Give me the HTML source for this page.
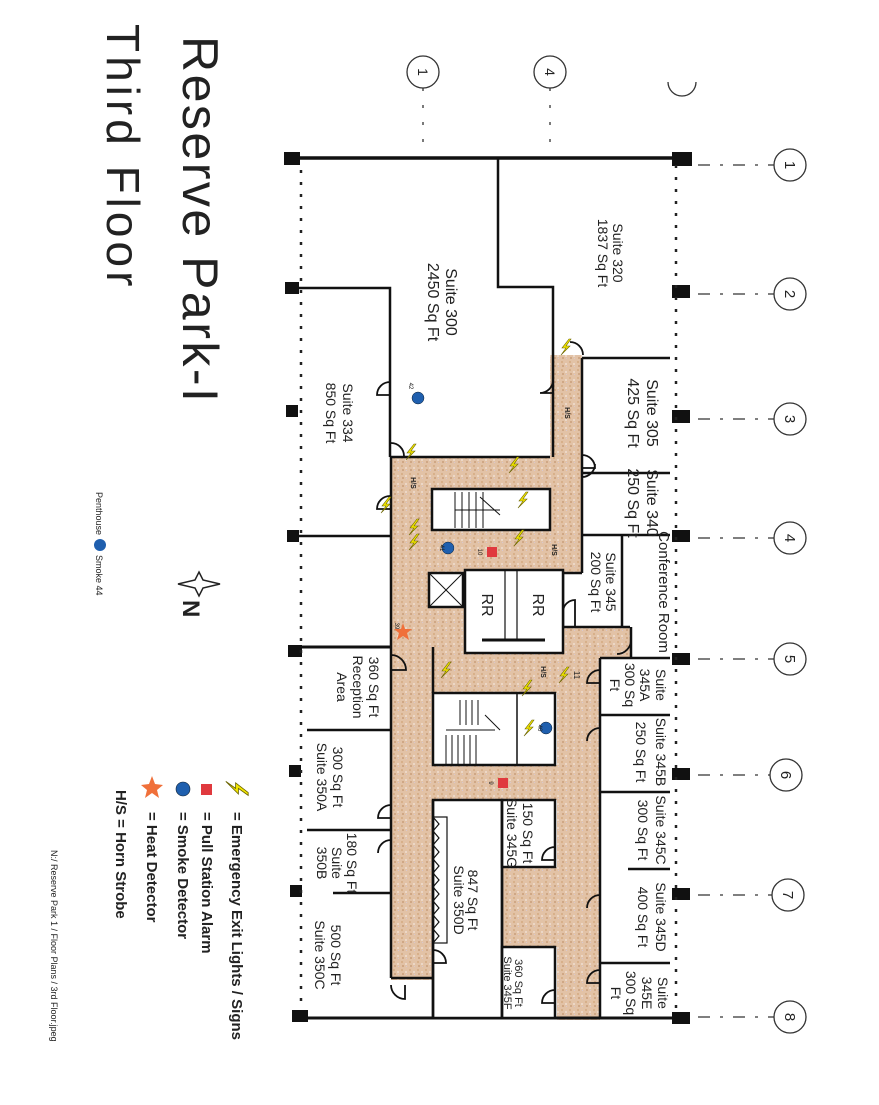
<!DOCTYPE html>
<html><head><meta charset="utf-8"><style>
html,body{margin:0;padding:0;background:#fff;}
svg{display:block;}
text{font-family:"Liberation Sans",sans-serif;fill:#222;}
</style></head><body>
<svg width="879" height="1105" viewBox="0 0 879 1105" xmlns="http://www.w3.org/2000/svg">
<defs>
<pattern id="tan" width="8" height="8" patternUnits="userSpaceOnUse">
<rect width="8" height="8" fill="#e2c2a6"/>
<rect x="1" y="1" width="2" height="2" fill="#d7b08a"/>
<rect x="5" y="3" width="2" height="2" fill="#ecd7c6"/>
<rect x="2" y="5" width="2" height="2" fill="#cfa785"/>
<rect x="6" y="6" width="1" height="1" fill="#d8c8cf"/>
</pattern>
<g id="bolt"><polygon points="4,-8 -3,1 1,1 -4,8 5,-1 1,-1 6,-8" fill="#f2e600" stroke="#6b6400" stroke-width="0.6"/></g>
</defs>

<!-- title -->
<text transform="translate(183 36) rotate(90)" font-size="50" letter-spacing="2.5" fill="#333">Reserve Park-I</text>
<text transform="translate(107 24) rotate(90)" font-size="46" letter-spacing="4" fill="#333">Third Floor</text>
<text transform="translate(96 492) rotate(90)" font-size="9">Penthouse</text>
<circle cx="100" cy="545" r="6" fill="#1f5fae"/>
<text transform="translate(96 555) rotate(90)" font-size="9">Smoke 44</text>

<!-- north -->
<polygon points="199,572 203,580 220,584 203,588 199,596 195,588 178,584 195,580" fill="#fff" stroke="#222" stroke-width="1.5"/>
<text transform="translate(183 600) rotate(90)" font-size="24" font-weight="bold">N</text>

<!-- legend -->
<use href="#bolt" transform="translate(237 787) rotate(90) scale(1.4)"/>
<text transform="translate(232 812) rotate(90)" font-size="15" font-weight="bold">= Emergency Exit  Lights / Signs</text>
<rect x="201" y="784" width="11" height="11" fill="#e0393e"/>
<text transform="translate(202 812) rotate(90)" font-size="15" font-weight="bold">= Pull Station Alarm</text>
<circle cx="183" cy="789" r="7" fill="#1f5fae" stroke="#123" stroke-width="0.6"/>
<text transform="translate(178 812) rotate(90)" font-size="15" font-weight="bold">= Smoke Detector</text>
<polygon points="152,776 155,784 163,785 157,790 159,798 152,793 145,798 147,790 141,785 149,784" fill="#f0703a"/>
<text transform="translate(147 812) rotate(90)" font-size="15" font-weight="bold">= Heat Detector</text>
<text transform="translate(116 790) rotate(90)" font-size="15" font-weight="bold">H/S = Horn Strobe</text>

<text transform="translate(51 850) rotate(90)" font-size="9" fill="#444">N:/ Reserve Park 1 / Floor Plans / 3rd Floor.jpeg</text>

<!-- grid circles top -->
<g fill="none" stroke="#333" stroke-width="1.3">
<circle cx="423" cy="72" r="16"/><circle cx="550" cy="72" r="16"/>
<path d="M668,82 a14,14 0 0 0 28,0"/>
<line x1="423" y1="88" x2="423" y2="150" stroke-dasharray="3,14"/>
<line x1="550" y1="88" x2="550" y2="150" stroke-dasharray="3,14"/>
</g>
<text transform="translate(418 72) rotate(90)" font-size="14" text-anchor="middle">1</text>
<text transform="translate(545 72) rotate(90)" font-size="14" text-anchor="middle">4</text>
<!-- right circles -->
<g fill="none" stroke="#333" stroke-width="1.3">
<circle cx="790" cy="165" r="16"/><circle cx="790" cy="294" r="16"/><circle cx="790" cy="419" r="16"/><circle cx="790" cy="538" r="16"/><circle cx="790" cy="659" r="16"/><circle cx="786" cy="775" r="16"/><circle cx="788" cy="895" r="16"/><circle cx="790" cy="1017" r="16"/>
<g stroke-dasharray="12,10,3,10">
<line x1="698" y1="165" x2="774" y2="165"/><line x1="698" y1="294" x2="774" y2="294"/><line x1="698" y1="419" x2="774" y2="419"/><line x1="698" y1="538" x2="774" y2="538"/><line x1="698" y1="659" x2="774" y2="659"/><line x1="698" y1="775" x2="770" y2="775"/><line x1="698" y1="895" x2="772" y2="895"/><line x1="698" y1="1017" x2="774" y2="1017"/>
</g></g>
<g font-size="15" text-anchor="middle">
<text transform="translate(785 165) rotate(90)">1</text>
<text transform="translate(785 294) rotate(90)">2</text>
<text transform="translate(785 419) rotate(90)">3</text>
<text transform="translate(785 538) rotate(90)">4</text>
<text transform="translate(785 659) rotate(90)">5</text>
<text transform="translate(781 775) rotate(90)">6</text>
<text transform="translate(783 895) rotate(90)">7</text>
<text transform="translate(785 1017) rotate(90)">8</text>
</g>

<!-- corridors -->
<g fill="url(#tan)">
<rect x="550" y="355" width="32" height="105"/>
<rect x="391" y="457" width="191" height="116"/>
<rect x="391" y="573" width="74" height="76"/>
<rect x="550" y="573" width="13" height="8"/>
<rect x="391" y="647" width="166" height="46"/>
<rect x="391" y="693" width="42" height="287"/>
<rect x="557" y="627" width="74" height="30"/>
<rect x="557" y="627" width="43" height="393"/>
<rect x="433" y="765" width="167" height="35"/>
<rect x="502" y="867" width="55" height="80"/>
</g>

<!-- walls -->
<g fill="none" stroke="#111" stroke-width="2.5">
<line x1="285" y1="158" x2="690" y2="158" stroke-width="3.5"/>
<line x1="292" y1="1018" x2="672" y2="1018" stroke-width="3"/>
<polyline points="498,158 498,287 553,287 553,355"/>
<line x1="553" y1="355" x2="553" y2="457"/>
<line x1="582" y1="358" x2="582" y2="573"/>
<line x1="582" y1="358" x2="670" y2="358"/>
<line x1="582" y1="473" x2="670" y2="473"/>
<line x1="582" y1="535" x2="670" y2="535"/>
<line x1="622" y1="535" x2="622" y2="627"/>
<polyline points="582,573 563,573 563,627 630,627"/>
<line x1="631" y1="627" x2="631" y2="658"/>
<polyline points="285,288 390,288 390,457"/>
<line x1="390" y1="457" x2="550" y2="457"/>
<line x1="287" y1="536" x2="391" y2="536"/>
<line x1="391" y1="457" x2="391" y2="978"/>
<rect x="432" y="489" width="118" height="41" fill="#fff"/>
<rect x="429" y="573" width="34" height="34" fill="#fff"/>
<line x1="429" y1="573" x2="463" y2="607" stroke-width="1"/><line x1="463" y1="573" x2="429" y2="607" stroke-width="1"/>
<rect x="465" y="570" width="98" height="83" fill="#fff"/>
<line x1="505" y1="570" x2="505" y2="640" stroke-width="1.2"/><line x1="517" y1="570" x2="517" y2="640" stroke-width="1.2"/>
<line x1="482" y1="640" x2="545" y2="640" stroke-width="3"/>
<line x1="290" y1="647" x2="391" y2="647" stroke-width="3"/>
<line x1="307" y1="730" x2="391" y2="730"/>
<line x1="307" y1="830" x2="391" y2="830"/>
<line x1="333" y1="893" x2="391" y2="893"/>
<rect x="433" y="693" width="122" height="72" fill="#fff"/>
<line x1="433" y1="647" x2="433" y2="693"/>
<rect x="433" y="800" width="69" height="218" fill="#fff"/>
<rect x="433" y="817" width="14" height="126" stroke-width="1.2"/>
<rect x="502" y="800" width="53" height="67" fill="#fff"/>
<rect x="502" y="947" width="53" height="71" fill="#fff"/>
<line x1="502" y1="800" x2="502" y2="1018"/>
<line x1="433" y1="800" x2="433" y2="1018"/>
<line x1="433" y1="978" x2="391" y2="978"/>
<line x1="600" y1="658" x2="600" y2="1018"/>
<line x1="600" y1="658" x2="670" y2="658"/>
<line x1="600" y1="715" x2="670" y2="715"/>
<line x1="600" y1="792" x2="670" y2="792"/>
<line x1="628" y1="869" x2="670" y2="869"/>
<line x1="600" y1="963" x2="670" y2="963"/>
</g>

<!-- stairs treads -->
<g stroke="#111" stroke-width="1">
<line x1="455" y1="492" x2="455" y2="528"/><line x1="462" y1="492" x2="462" y2="528"/><line x1="469" y1="492" x2="469" y2="528"/><line x1="476" y1="492" x2="476" y2="528"/><line x1="483" y1="492" x2="483" y2="528"/>
<line x1="455" y1="510" x2="500" y2="510"/><line x1="480" y1="497" x2="500" y2="515"/>
<line x1="446" y1="735" x2="446" y2="765"/><line x1="452" y1="735" x2="452" y2="765"/><line x1="458" y1="735" x2="458" y2="765"/><line x1="464" y1="735" x2="464" y2="765"/><line x1="470" y1="735" x2="470" y2="765"/><line x1="476" y1="735" x2="476" y2="765"/>
<line x1="460" y1="700" x2="460" y2="725"/><line x1="466" y1="700" x2="466" y2="725"/><line x1="472" y1="700" x2="472" y2="725"/><line x1="478" y1="700" x2="478" y2="725"/>
<line x1="446" y1="730" x2="495" y2="730"/><line x1="485" y1="715" x2="500" y2="730"/>
<line x1="517" y1="693" x2="517" y2="765" stroke-width="1.5"/>
</g>
<polyline points="433,817 439,824 433,831 439,838 433,845 439,852 433,859 439,866 433,873 439,880 433,887 439,894 433,901 439,908 433,915 439,922 433,929 439,936 433,943" fill="none" stroke="#111" stroke-width="1.2"/>

<!-- doors -->
<g fill="none" stroke="#111" stroke-width="1.8">
<path d="M390,382 a13,13 0 0 0 -13,13 L390,395"/>
<path d="M553,380 a13,13 0 0 1 -13,13 L553,393"/>
<path d="M582,455 a13,13 0 0 1 13,13 L582,468"/>
<path d="M582,477 a13,13 0 0 0 13,-13"/>
<path d="M390,496 a13,13 0 0 0 -13,13 L390,509"/>
<path d="M391,443 a13,13 0 0 1 13,13"/>
<path d="M570,342 a13,13 0 0 1 13,13"/>
<path d="M563,612 a12,12 0 0 1 12,-12 L575,627"/>
<path d="M631,640 a14,14 0 0 1 -14,14"/>
<path d="M391,655 a15,15 0 0 1 15,15 L391,670"/>
<path d="M600,670 a13,13 0 0 0 -13,13 L600,683"/>
<path d="M600,728 a13,13 0 0 0 -13,13"/>
<path d="M391,805 a13,13 0 0 0 -13,13 L391,818"/>
<path d="M391,840 a13,13 0 0 0 -13,13"/>
<path d="M555,847 a13,13 0 0 0 -13,13 L555,860"/>
<path d="M600,895 a13,13 0 0 0 -13,13"/>
<path d="M600,970 a13,13 0 0 0 -13,13 L600,983"/>
<path d="M555,990 a13,13 0 0 0 -13,13 L555,1003"/>
<path d="M433,950 a13,13 0 0 1 13,13 L433,963"/>
<path d="M391,985 a14,14 0 0 0 14,14 L405,985"/>
</g>

<!-- outer pillars and dotted walls -->
<g fill="#111">
<rect x="284" y="152" width="16" height="13"/><rect x="672" y="152" width="20" height="14"/>
<rect x="672" y="285" width="18" height="13"/><rect x="672" y="410" width="18" height="13"/>
<rect x="672" y="530" width="18" height="12"/><rect x="672" y="653" width="18" height="12"/>
<rect x="672" y="768" width="18" height="12"/><rect x="672" y="888" width="18" height="12"/>
<rect x="672" y="1012" width="18" height="12"/>
<rect x="285" y="282" width="14" height="12"/><rect x="286" y="405" width="12" height="12"/>
<rect x="287" y="530" width="12" height="12"/><rect x="288" y="645" width="14" height="12"/>
<rect x="289" y="765" width="12" height="12"/><rect x="290" y="885" width="12" height="12"/>
<rect x="292" y="1010" width="16" height="12"/>
</g>
<g stroke="#222" stroke-width="2.5" stroke-dasharray="3,9">
<line x1="676" y1="165" x2="676" y2="1012"/>
<line x1="301" y1="170" x2="301" y2="1010"/>
</g>

<!-- labels -->
<g font-size="14" text-anchor="middle">
<text transform="translate(613 253) rotate(90)">Suite 320</text>
<text transform="translate(598 253) rotate(90)">1837 Sq Ft</text>
<text transform="translate(446 302) rotate(90)" font-size="16">Suite 300</text>
<text transform="translate(428 302) rotate(90)" font-size="16">2450 Sq Ft</text>
<text transform="translate(343 413) rotate(90)">Suite 334</text>
<text transform="translate(326 413) rotate(90)">850 Sq Ft</text>
<text transform="translate(647 413) rotate(90)" font-size="16">Suite 305</text>
<text transform="translate(628 413) rotate(90)" font-size="16">425 Sq Ft</text>
<text transform="translate(647 503) rotate(90)" font-size="16">Suite 340</text>
<text transform="translate(628 503) rotate(90)" font-size="16">250 Sq Ft</text>
<text transform="translate(606 582) rotate(90)">Suite 345</text>
<text transform="translate(591 582) rotate(90)">200 Sq Ft</text>
<text transform="translate(659 592) rotate(90)" font-size="15">Conference Room</text>
<text transform="translate(482 605) rotate(90)" font-size="16">RR</text>
<text transform="translate(533 605) rotate(90)" font-size="16">RR</text>
<text transform="translate(656 685) rotate(90)">Suite</text>
<text transform="translate(640 685) rotate(90)">345A</text>
<text transform="translate(625 685) rotate(90)">300 Sq</text>
<text transform="translate(610 685) rotate(90)">Ft</text>
<text transform="translate(656 752) rotate(90)">Suite 345B</text>
<text transform="translate(636 752) rotate(90)">250 Sq Ft</text>
<text transform="translate(656 830) rotate(90)">Suite 345C</text>
<text transform="translate(638 830) rotate(90)">300 Sq Ft</text>
<text transform="translate(656 917) rotate(90)">Suite 345D</text>
<text transform="translate(638 917) rotate(90)">400 Sq Ft</text>
<text transform="translate(658 993) rotate(90)">Suite</text>
<text transform="translate(642 993) rotate(90)">345E</text>
<text transform="translate(626 993) rotate(90)">300 Sq</text>
<text transform="translate(611 993) rotate(90)">Ft</text>
<text transform="translate(369 687) rotate(90)">360 Sq Ft</text>
<text transform="translate(353 687) rotate(90)">Reception</text>
<text transform="translate(337 687) rotate(90)">Area</text>
<text transform="translate(333 777) rotate(90)">300 Sq Ft</text>
<text transform="translate(317 777) rotate(90)">Suite 350A</text>
<text transform="translate(347 863) rotate(90)">180 Sq Ft</text>
<text transform="translate(332 863) rotate(90)">Suite</text>
<text transform="translate(317 863) rotate(90)">350B</text>
<text transform="translate(331 955) rotate(90)">500 Sq Ft</text>
<text transform="translate(315 955) rotate(90)">Suite 350C</text>
<text transform="translate(468 900) rotate(90)">847 Sq Ft</text>
<text transform="translate(454 900) rotate(90)">Suite 350D</text>
<text transform="translate(523 833) rotate(90)">150 Sq Ft</text>
<text transform="translate(507 833) rotate(90)">Suite 345G</text>
<text transform="translate(515 983) rotate(90)" font-size="11">360 Sq Ft</text>
<text transform="translate(504 983) rotate(90)" font-size="11">Suite 345F</text>
</g>

<!-- devices -->
<g fill="#1f5fae" stroke="#123" stroke-width="0.5">
<circle cx="418" cy="398" r="6"/><circle cx="448" cy="548" r="6"/><circle cx="546" cy="728" r="6"/>
</g>
<rect x="487" y="547" width="10" height="10" fill="#e0393e"/>
<rect x="498" y="778" width="10" height="10" fill="#e0393e"/>
<polygon points="403,623 405,629 412,629 407,633 409,640 403,636 397,640 399,633 394,629 401,629" fill="#f0703a"/>
<g>
<use href="#bolt" transform="translate(565 347)"/>
<use href="#bolt" transform="translate(410 452)"/>
<use href="#bolt" transform="translate(385 505)"/>
<use href="#bolt" transform="translate(413 527)"/>
<use href="#bolt" transform="translate(413 542)"/>
<use href="#bolt" transform="translate(513 465)"/>
<use href="#bolt" transform="translate(522 500)"/>
<use href="#bolt" transform="translate(518 538)"/>
<use href="#bolt" transform="translate(445 670)"/>
<use href="#bolt" transform="translate(526 688)"/>
<use href="#bolt" transform="translate(563 675)"/>
<use href="#bolt" transform="translate(528 728)"/>
</g>
<g font-size="6" text-anchor="middle">
<text transform="translate(409 386) rotate(90)">42</text>
<text transform="translate(440 548) rotate(90)">41</text>
<text transform="translate(478 552) rotate(90)">10</text>
<text transform="translate(538 728) rotate(90)">40</text>
<text transform="translate(489 783) rotate(90)">9</text>
<text transform="translate(395 626) rotate(90)">39</text>
<text transform="translate(574 675) rotate(90)" font-size="8">11</text>
</g>
<g font-size="7" font-weight="bold" text-anchor="middle">
<text transform="translate(565 413) rotate(90)">H/S</text>
<text transform="translate(411 483) rotate(90)">H/S</text>
<text transform="translate(552 550) rotate(90)">H/S</text>
<text transform="translate(541 672) rotate(90)">H/S</text>
</g>
</svg>
</body></html>
